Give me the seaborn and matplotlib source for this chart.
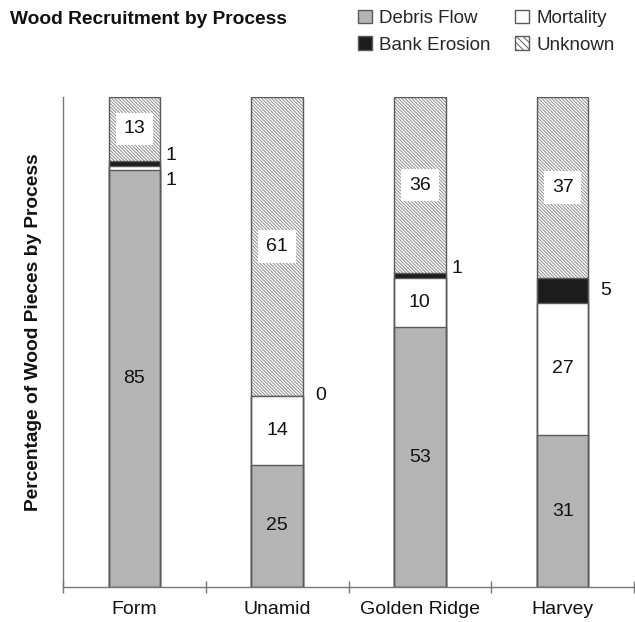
import numpy as np
import pandas as pd
import matplotlib
matplotlib.use("Agg")
import matplotlib.pyplot as plt
import seaborn as sns
from matplotlib.patches import Patch

sites = ["Form", "Unamid", "Golden Ridge", "Harvey"]
processes = ["Debris Flow", "Mortality", "Bank Erosion", "Unknown"]
debris_flow = [85, 25, 53, 31]
mortality = [1, 14, 10, 27]
bank_erosion = [1, 0, 1, 5]
unknown = [13, 61, 36, 37]

sns.set_theme(style="white")
plt.rcParams["font.family"] = ["Liberation Sans", "DejaVu Sans"]
plt.rcParams["hatch.linewidth"] = 0.7

series = [debris_flow, mortality, bank_erosion, unknown]
vals = np.array(series, dtype=float)  # shape (processes, sites)
cum = np.cumsum(vals, axis=0)

colors = {"Debris Flow": "#b4b4b4", "Mortality": "#ffffff",
          "Bank Erosion": "#1c1c1c", "Unknown": "#ffffff"}
edge = "#5a5a5a"
HATCH = "\\" * 10
W = 0.36

fig = plt.figure(figsize=(6.35, 6.22), dpi=100)
ax = fig.add_axes([63 / 635, 35 / 622, 571 / 635, 490 / 622])

# draw from top cumulative layer down (overlay stacking)
for k in range(len(processes) - 1, -1, -1):
    df = pd.DataFrame({"site": sites, "value": cum[k]})
    p = processes[k]
    if p == "Unknown":
        sns.barplot(data=df, x="site", y="value", order=sites, ax=ax,
                    color="white", width=W, hatch=HATCH,
                    edgecolor="#8c8c8c", linewidth=0, errorbar=None)
    else:
        sns.barplot(data=df, x="site", y="value", order=sites, ax=ax,
                    color=colors[p], saturation=1, width=W,
                    edgecolor=edge, linewidth=1.0, errorbar=None)
# outline of full bars
df_tot = pd.DataFrame({"site": sites, "value": cum[-1]})
sns.barplot(data=df_tot, x="site", y="value", order=sites, ax=ax,
            fill=False, width=W, edgecolor=edge, linewidth=1.0, errorbar=None)

# labels
fs = 14
nudge = {("Form", "Bank Erosion"): 1.5, ("Form", "Mortality"): -2.5,
         ("Golden Ridge", "Bank Erosion"): 1.5}
right_off = {"Form": 0.04, "Unamid": 0.09, "Golden Ridge": 0.04, "Harvey": 0.08}
for j, s in enumerate(sites):
    for k, p in enumerate(processes):
        v = vals[k, j]
        lo = cum[k, j] - v
        yc = lo + v / 2
        if v >= 10:
            if p == "Unknown":
                ax.text(j, yc, f"{int(v)}", ha="center", va="center", fontsize=fs,
                        color="#111111",
                        bbox=dict(boxstyle="square,pad=0.4", fc="white", ec="none"))
            else:
                ax.text(j, yc, f"{int(v)}", ha="center", va="center", fontsize=fs,
                        color="#111111")
        elif p in ("Bank Erosion", "Mortality"):
            if v == 0:
                yc = cum[k, j]
            ax.text(j + W / 2 + right_off[s], yc + nudge.get((s, p), 0), f"{int(v)}",
                    ha="left", va="center", fontsize=fs, color="#111111")

ax.set_xlim(-0.5, 3.5)
ax.set_ylim(0, 100)
ax.set_yticks([])
ax.set_xlabel("")
ax.set_ylabel("Percentage of Wood Pieces by Process", fontsize=13.8,
              fontweight="bold", color="#111111")
ax.yaxis.set_label_coords(-0.036, 0.52)
ax.set_xticks(range(len(sites)))
ax.set_xticklabels(sites, fontsize=14, color="#111111")
ax.tick_params(axis="x", which="major", bottom=False, length=0, pad=10)
ax.set_xticks([-0.5, 0.5, 1.5, 2.5, 3.5], minor=True)
ax.tick_params(axis="x", which="minor", bottom=True, length=9, direction="inout",
               color="#777777", width=1)
for sp in ["top", "right"]:
    ax.spines[sp].set_visible(False)
for sp in ["left", "bottom"]:
    ax.spines[sp].set_color("#777777")
    ax.spines[sp].set_linewidth(1.0)

fig.text(10 / 635, 1 - 20 / 622, "Wood Recruitment by Process", fontsize=13.8,
         fontweight="bold", va="center", ha="left", color="#111111")

handles = [Patch(facecolor=colors["Debris Flow"], edgecolor=edge),
           Patch(facecolor=colors["Bank Erosion"], edgecolor=edge),
           Patch(facecolor=colors["Mortality"], edgecolor=edge),
           Patch(facecolor="white", edgecolor=edge, hatch="\\" * 5)]
labels = ["Debris Flow", "Bank Erosion", "Mortality", "Unknown"]
fig.legend(handles, labels, ncol=2, loc="upper left",
           bbox_to_anchor=(350 / 635, 1 - 2 / 622), frameon=False, fontsize=13.5,
           handlelength=0.75, handleheight=0.75, handletextpad=0.4,
           columnspacing=1.3, labelspacing=0.5, borderaxespad=0)

fig.savefig("out.png", dpi=100)
